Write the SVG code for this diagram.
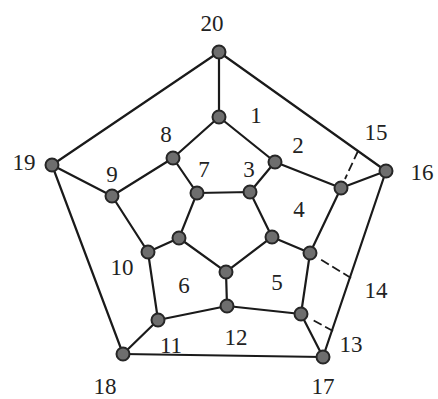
<svg xmlns="http://www.w3.org/2000/svg" width="438" height="399" viewBox="0 0 438 399">
<style>
.e{stroke:#1a1a1a;stroke-width:2.2;fill:none;stroke-linecap:round}
.d{stroke:#1a1a1a;stroke-width:1.8;fill:none;stroke-dasharray:9,4}
.n{fill:#6e6e6e;stroke:#262626;stroke-width:2}
.t{font-family:"Liberation Serif","Times New Roman",serif;font-size:23px;fill:#222;text-anchor:middle}
</style>
<rect width="438" height="399" fill="#fff"/>
<g id="connectors">
<line class="e" x1="219" y1="52" x2="52" y2="165"/>
<line class="e" x1="219" y1="52" x2="386" y2="171"/>
<line class="e" x1="219" y1="52" x2="219" y2="117"/>
<line class="e" x1="52" y1="165" x2="112" y2="196"/>
<line class="e" x1="52" y1="165" x2="123" y2="354"/>
<line class="e" x1="219" y1="117" x2="173" y2="158"/>
<line class="e" x1="219" y1="117" x2="275" y2="162"/>
<line class="e" x1="173" y1="158" x2="112" y2="196"/>
<line class="e" x1="173" y1="158" x2="197" y2="193"/>
<line class="e" x1="112" y1="196" x2="148" y2="252"/>
<line class="e" x1="275" y1="162" x2="250" y2="192"/>
<line class="e" x1="275" y1="162" x2="341" y2="188"/>
<line class="e" x1="341" y1="188" x2="386" y2="171"/>
<line class="e" x1="386" y1="171" x2="323" y2="357"/>
<line class="e" x1="341" y1="188" x2="310" y2="253"/>
<line class="e" x1="310" y1="253" x2="272" y2="237"/>
<line class="e" x1="310" y1="253" x2="301" y2="314"/>
<line class="e" x1="301" y1="314" x2="227" y2="306"/>
<line class="e" x1="301" y1="314" x2="323" y2="357"/>
<line class="e" x1="227" y1="306" x2="226" y2="272"/>
<line class="e" x1="227" y1="306" x2="158" y2="320"/>
<line class="e" x1="158" y1="320" x2="148" y2="252"/>
<line class="e" x1="158" y1="320" x2="123" y2="354"/>
<line class="e" x1="123" y1="354" x2="323" y2="357"/>
<line class="e" x1="148" y1="252" x2="179" y2="238"/>
<polygon class="e" points="197,193 250,192 272,237 226,272 179,238"/>
<line class="d" x1="358" y1="151" x2="345" y2="179"/>
<line class="d" x1="351" y1="278" x2="320" y2="259"/>
<line class="d" x1="333" y1="331" x2="311" y2="319"/>
</g>
<g id="node20"><circle class="n" cx="219" cy="52" r="6.5"/><text class="t" x="212" y="31">20</text></g>
<g id="node1"><circle class="n" cx="219" cy="117" r="6.5"/><text class="t" x="256" y="123">1</text></g>
<g id="node2"><circle class="n" cx="275" cy="162" r="6.5"/><text class="t" x="298" y="153">2</text></g>
<g id="node3"><circle class="n" cx="250" cy="192" r="6.5"/><text class="t" x="249" y="177">3</text></g>
<g id="node7"><circle class="n" cx="197" cy="193" r="6.5"/><text class="t" x="204" y="177">7</text></g>
<g id="node8"><circle class="n" cx="173" cy="158" r="6.5"/><text class="t" x="166" y="142">8</text></g>
<g id="node9"><circle class="n" cx="112" cy="196" r="6.5"/><text class="t" x="112" y="182">9</text></g>
<g id="node19"><circle class="n" cx="52" cy="165" r="6.5"/><text class="t" x="24" y="170">19</text></g>
<g id="node15"><circle class="n" cx="341" cy="188" r="6.5"/><text class="t" x="376" y="140">15</text></g>
<g id="node16"><circle class="n" cx="386" cy="171" r="6.5"/><text class="t" x="422" y="180">16</text></g>
<g id="node4"><circle class="n" cx="272" cy="237" r="6.5"/><text class="t" x="299" y="217">4</text></g>
<g id="node14"><circle class="n" cx="310" cy="253" r="6.5"/><text class="t" x="376" y="298">14</text></g>
<g id="node5"><circle class="n" cx="226" cy="272" r="6.5"/><text class="t" x="277" y="290">5</text></g>
<g id="node6"><circle class="n" cx="179" cy="238" r="6.5"/><text class="t" x="184" y="293">6</text></g>
<g id="node10"><circle class="n" cx="148" cy="252" r="6.5"/><text class="t" x="122" y="275">10</text></g>
<g id="node11"><circle class="n" cx="158" cy="320" r="6.5"/><text class="t" x="171" y="353">11</text></g>
<g id="node12"><circle class="n" cx="227" cy="306" r="6.5"/><text class="t" x="236" y="345">12</text></g>
<g id="node13"><circle class="n" cx="301" cy="314" r="6.5"/><text class="t" x="351" y="352">13</text></g>
<g id="node18"><circle class="n" cx="123" cy="354" r="6.5"/><text class="t" x="105" y="394">18</text></g>
<g id="node17"><circle class="n" cx="323" cy="357" r="6.5"/><text class="t" x="323" y="394">17</text></g>
</svg>
